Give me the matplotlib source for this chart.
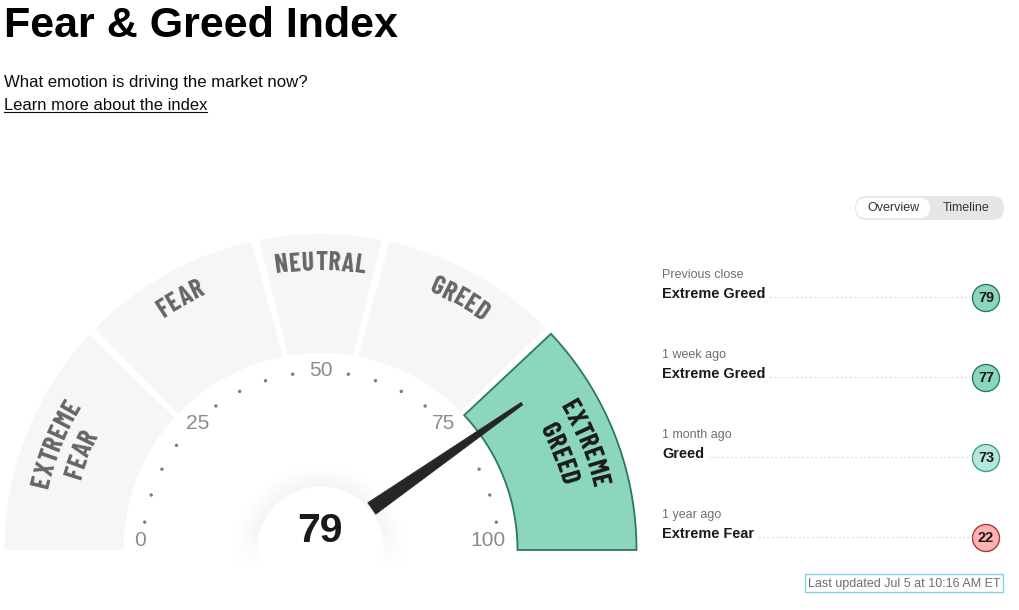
import numpy as np
import matplotlib
matplotlib.use("Agg")
from matplotlib import pyplot as plt
from matplotlib import font_manager as fm
from matplotlib.patches import Polygon, Circle, FancyBboxPatch, Rectangle

# data
zones = ["EXTREME\nFEAR", "FEAR", "NEUTRAL", "GREED", "EXTREME\nGREED"]
zone_edges_outer = [0, 24.3, 43.4, 56.6, 75.6, 100]
zone_edges_inner = [0, 23.9, 44.3, 55.7, 75.6, 100]
current_value = 79
active_zone = 4
scale_labels = [0, 25, 50, 75, 100]
scale_dots = [5, 10, 15, 20, 30, 35, 40, 45, 55, 60, 65, 70, 80, 85, 90, 95]
history_when = ["Previous close", "1 week ago", "1 month ago", "1 year ago"]
history_label = ["Extreme Greed", "Extreme Greed", "Greed", "Extreme Fear"]
history_value = [79, 77, 73, 22]
history_color = ["#8cd6c0", "#8cd6c0", "#b5e8dc", "#ffb3b0"]
history_edge = ["#2b7a5b", "#2b7a5b", "#3f9c86", "#a8383c"]

W, H = 1019, 610
CX, CY = 320.5, 550
R_OUT, R_IN = 316, 197
SANS = "Liberation Sans"

# narrowest match for the zone labels, whatever is installed
installed = set(f.name for f in fm.fontManager.ttflist)
NARROW = "DejaVu Sans"
for name in ["Barlow Condensed", "Roboto Condensed", "Sofia Sans Condensed", "Saira Condensed"]:
    if name in installed:
        NARROW = name
        break


def px(size):
    return size * 72 / 100


def angle(v):
    return np.radians(180 * (1 - v / 100))


def polar(r, a):
    return CX + r * np.cos(a), CY - r * np.sin(a)


fig = plt.figure(figsize=(W / 100, H / 100), dpi=100)
ax = fig.add_axes([0, 0, 1, 1])
ax.set_xlim(0, W)
ax.set_ylim(H, 0)
ax.axis("off")
rend = fig.canvas.get_renderer()


def text_on_arc(s, r, mid, size, color):
    # one letter at a time so the label follows the curve
    widths = []
    for ch in s:
        t = ax.text(0, 0, ch, fontsize=px(size), family=NARROW, weight="bold")
        widths.append(t.get_window_extent(rend).width + 1.0)
        t.remove()
    pos = -sum(widths) / 2
    for ch, w in zip(s, widths):
        a = mid - (pos + w / 2) / r
        x, y = polar(r, a)
        ax.text(x, y, ch, fontsize=px(size), family=NARROW, weight="bold", color=color,
                rotation=np.degrees(a) - 90, rotation_mode="anchor", ha="center", va="center", zorder=3)
        pos += w


# header
ax.text(4, 26, "Fear & Greed Index", fontsize=px(43), family=SANS, weight="bold", color="#000000", va="center")
ax.text(4, 83, "What emotion is driving the market now?", fontsize=px(16.7), family=SANS, color="#0c0c0c", va="center")
t = ax.text(4, 106, "Learn more about the index", fontsize=px(16.5), family=SANS, color="#0c0c0c", va="center")
b = t.get_window_extent(rend)
ax.plot([4, b.x1], [111.5, 111.5], color="#0c0c0c", lw=0.8)

# gauge zones
gap = np.radians(0.75)
for i, zone in enumerate(zones):
    g0 = gap if i > 0 else 0
    g1 = gap if i < len(zones) - 1 else 0
    arc_o = np.linspace(angle(zone_edges_outer[i]) - g0, angle(zone_edges_outer[i + 1]) + g1, 80)
    arc_i = np.linspace(angle(zone_edges_inner[i + 1]) + g1, angle(zone_edges_inner[i]) - g0, 80)
    xo, yo = polar(R_OUT, arc_o)
    xi, yi = polar(R_IN, arc_i)
    pts = np.column_stack([np.r_[xo, xi], np.r_[yo, yi]])
    if i == active_zone:
        ax.add_patch(Polygon(pts, closed=True, fc="#8cd6c0", ec="#2b7a5b", lw=1.3, zorder=2))
    else:
        ax.add_patch(Polygon(pts, closed=True, fc="#f6f6f6", ec="none", zorder=1))
    mid = (angle(zone_edges_outer[i]) + angle(zone_edges_outer[i + 1])) / 2
    col = "#1a1a1a" if i == active_zone else "#666666"
    lines = zone.split("\n")
    if len(lines) == 1:
        text_on_arc(lines[0], 287, mid, 26, col)
    else:
        text_on_arc(lines[0], 286, mid, 26, col)
        text_on_arc(lines[1], 257, mid, 26, col)

# scale
for v in scale_dots:
    x, y = polar(178, angle(v))
    ax.add_patch(Circle((x, y), 1.7, fc="#7d7d7d", ec="none", zorder=3))
for v in scale_labels:
    a = angle(v)
    x, y = CX + 174 * np.cos(a), CY - 179 * np.sin(a)
    if v == 0:
        x, y = 140, y - 10
    if v == 100:
        x, y = 488, y - 10
    ax.text(x, y, str(v), fontsize=px(21), family=SANS, color="#8c8c8c", ha="center", va="center", zorder=3)

# hub with soft shadow, fading out towards the bottom
for r, c in zip(np.arange(86, 64, -2), np.linspace(0.998, 0.96, 11)):
    ax.add_patch(Circle((CX, CY), r, fc=str(c), ec="none", zorder=1.5))
for y0 in np.arange(530, 570, 2):
    ax.add_patch(Rectangle((CX - 95, y0), 190, 2.5, fc="#ffffff", ec="none", alpha=(y0 - 530) / 38, zorder=1.7))
ax.add_patch(Rectangle((CX - 95, 568), 190, 70, fc="#ffffff", ec="none", zorder=1.7))
ax.add_patch(Circle((CX, CY), 63.5, fc="#ffffff", ec="none", zorder=1.8))
ax.text(CX, 531, str(current_value), fontsize=px(41), family=SANS, weight="bold", color="#1a1a1a",
        ha="center", va="center", zorder=5)

# needle
a = angle(current_value)
tip_a, base_a = a - np.radians(1.8), a + np.radians(1.2)
tx, ty = polar(249, tip_a)
bx, by = polar(66, base_a)
dx, dy = tx - bx, ty - by
n = np.hypot(dx, dy)
nx, ny = -dy / n, dx / n
needle = [(bx + nx * 7, by + ny * 7), (tx + nx * 1.5, ty + ny * 1.5), (tx - nx * 1.5, ty - ny * 1.5), (bx - nx * 7, by - ny * 7)]
ax.add_patch(Polygon(needle, closed=True, fc="#262626", ec="#262626", lw=0.5, joinstyle="round", zorder=4))

# overview / timeline toggle
ax.add_patch(FancyBboxPatch((855, 196), 149, 24, boxstyle="round,pad=0,rounding_size=12", fc="#e6e6e6", ec="none"))
ax.add_patch(FancyBboxPatch((856, 198), 74, 20, boxstyle="round,pad=0,rounding_size=10", fc="#ffffff", ec="none"))
ax.text(893, 208, "Overview", fontsize=px(12.5), family=SANS, color="#333333", ha="center", va="center")
ax.text(966, 208, "Timeline", fontsize=px(12.5), family=SANS, color="#333333", ha="center", va="center")

# history rows
for i in range(len(history_value)):
    y0 = 275 + 80 * i
    ax.text(662, y0, history_when[i], fontsize=px(12.5), family=SANS, color="#6e6e6e", va="center")
    t = ax.text(662, y0 + 19, history_label[i], fontsize=px(14.5), family=SANS, weight="bold", color="#1a1a1a", va="center")
    end = t.get_window_extent(rend).x1
    ax.plot([end + 4, 972], [y0 + 22, y0 + 22], color="#e0e0e0", lw=0.8, ls=(0, (2, 2)))
    ax.add_patch(Circle((986, y0 + 23), 13.5, fc=history_color[i], ec=history_edge[i], lw=1))
    ax.text(986, y0 + 23.5, str(history_value[i]), fontsize=px(14.5), family=SANS, weight="bold", color="#1a1a1a", ha="center", va="center")

# last updated
ax.add_patch(Rectangle((805.5, 573.5), 198, 18, fc="none", ec="#86d3e3", lw=1))
ax.text(904.5, 583.5, "Last updated Jul 5 at 10:16 AM ET", fontsize=px(12.5), family=SANS, color="#6e6e6e", ha="center", va="center")

plt.savefig("out.png", dpi=100)
